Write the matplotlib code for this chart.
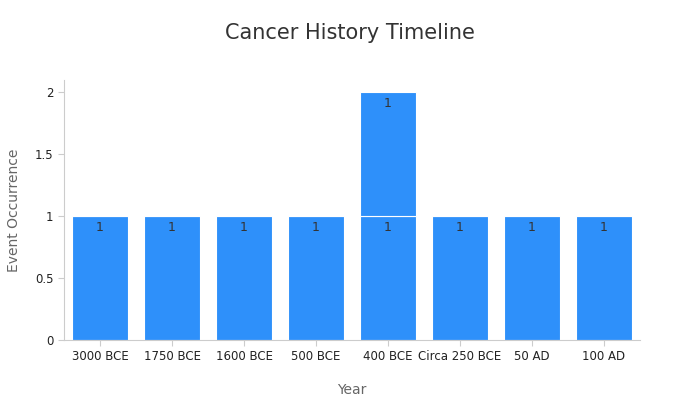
import matplotlib
matplotlib.use('Agg')
from matplotlib import pyplot as plt

years = ['3000 BCE', '1750 BCE', '1600 BCE', '500 BCE', '400 BCE', 'Circa 250 BCE', '50 AD', '100 AD']
eventsFirst = [1, 1, 1, 1, 1, 1, 1, 1]
eventsSecond = [0, 0, 0, 0, 1, 0, 0, 0]

barColor = '#2e90fa'
textColor = '#333333'

fig = plt.figure(figsize=(7, 4), dpi=100)
ax = fig.add_axes([64 / 700, 60 / 400, 576 / 700, 260 / 400])

x = range(len(years))
bars1 = ax.bar(x, eventsFirst, width=0.79, color=barColor, edgecolor='white', linewidth=0.8)
bars2 = ax.bar(x, eventsSecond, width=0.79, bottom=eventsFirst, color=barColor, edgecolor='white', linewidth=0.8)

for bars, vals, bottoms in ((bars1, eventsFirst, [0] * len(years)), (bars2, eventsSecond, eventsFirst)):
    for bar, v, b in zip(bars, vals, bottoms):
        if v:
            ax.text(bar.get_x() + bar.get_width() / 2, b + v - 0.04, str(v),
                    ha='center', va='top', fontsize=9, color=textColor)

ax.set_xlim(-0.5, 7.5)
ax.set_ylim(0, 2.1)
ax.set_xticks(list(x))
ax.set_xticklabels(years, fontsize=8.5, color='#222222')
ax.set_yticks([0, 0.5, 1, 1.5, 2])
ax.set_yticklabels(['0', '0.5', '1', '1.5', '2'], fontsize=8.5, color='#222222')
ax.tick_params(length=4, color='#cccccc')
for side in ('top', 'right'):
    ax.spines[side].set_visible(False)
for side in ('left', 'bottom'):
    ax.spines[side].set_color('#cccccc')

ax.set_xlabel('Year', fontsize=10, color='#666666', labelpad=14)
ax.set_ylabel('Event Occurrence', fontsize=10, color='#666666', labelpad=10)
fig.text(0.5, 1 - 33 / 400, 'Cancer History Timeline', ha='center', va='center', fontsize=15, color='#333333')

plt.savefig('out.png')
plt.close(fig)
